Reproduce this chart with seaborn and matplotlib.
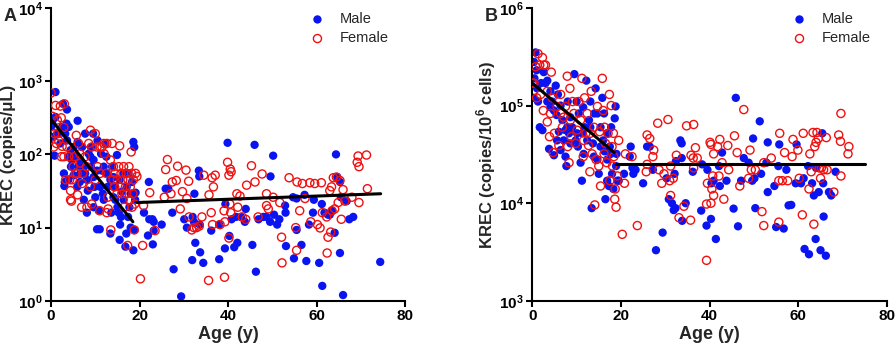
import numpy as np
import matplotlib
matplotlib.use("Agg")
import matplotlib.pyplot as plt
import matplotlib.ticker as mticker
import seaborn as sns

# ---- panel A: KREC copies/uL ----
a_male_age = [1.0, 0.0, 0.8, 0.6, 1.4, 2.7, 3.6, 3.5, 4.0, 2.9, 3.0, 3.1, 3.9, 4.4, 4.7, 5.1, 6.0, 6.0, 6.5, 6.6,
              7.4, 7.7, 7.7, 8.1, 8.3, 8.9, 9.0, 9.5, 9.6, 9.8, 10.0, 9.6, 10.4, 11.0, 10.8, 11.3, 11.7, 11.9, 12.5, 12.8,
              13.4, 13.6, 13.8, 14.1, 14.5, 14.9, 15.0, 15.3, 15.5, 15.6, 16.0, 16.4, 16.8, 17.0, 17.1, 17.4, 17.7, 18.0, 18.3, 18.6,
              18.6, 18.8, 18.9, 19.0, 19.1, 18.0, 17.5, 16.4, 15.8, 14.5, 13.4, 12.6, 11.9, 11.1, 10.4, 9.6, 8.5, 7.4, 7.0, 6.2,
              5.5, 5.1, 4.5, 4.0, 3.6, 2.1, 1.7, 2.5, 3.2, 1.0, 0.4, 5.9, 6.6, 8.1, 9.0, 10.5, 12.3, 11.5, 14.1, 15.5,
              21.0, 22.1, 21.9, 22.2, 22.9, 23.0, 23.2, 23.2, 25.0, 25.9, 26.5, 27.4, 27.7, 29.4, 30.1, 30.7, 31.9, 32.0, 32.3, 32.4,
              32.6, 33.4, 33.5, 33.7, 34.4, 33.6, 36.2, 38.0, 38.0, 39.3, 39.4, 39.9, 40.3, 40.8, 41.4, 42.1, 41.8, 42.9, 44.0, 43.8,
              45.5, 46.0, 46.3, 46.9, 48.0, 48.7, 49.6, 49.5, 50.2, 50.4, 51.1, 51.6, 52.9, 53.0, 53.1, 54.7, 54.9, 55.5, 55.5, 56.6,
              57.3, 57.7, 58.3, 59.2, 59.4, 60.6, 61.2, 61.3, 61.8, 62.6, 63.0, 63.5, 64.1, 64.4, 64.7, 65.3, 65.3, 65.5, 66.0, 66.8,
              67.4, 68.3, 74.4]
a_male_val = [710, 237, 96, 174, 192, 490, 410, 263, 237, 55, 37, 42, 45, 114, 84, 52, 288, 148, 42, 84,
              24, 192, 55, 16, 32, 93, 68, 192, 49, 36, 26, 19, 9.5, 9.5, 17, 102, 29, 68, 93, 36,
              8.3, 16, 68, 26, 36, 98, 19, 16, 6.8, 11, 31, 24, 5.5, 8.3, 36, 14, 19, 29, 42, 4.9,
              148, 126, 9.3, 24, 30, 10, 55, 55, 14, 24, 45, 55, 24, 36, 60, 84, 102, 68, 126, 68,
              93, 126, 68, 93, 155, 141, 192, 237, 192, 324, 295, 36, 55, 45, 126, 155, 141, 60, 49, 45,
              16, 42, 7.8, 13, 13, 5.9, 9.1, 12, 11, 34, 34, 16, 2.7, 1.15, 13, 10, 3.6, 14, 12, 29,
              6.2, 60, 50, 4.6, 3.3, 11, 9.1, 3.7, 11, 5.2, 21, 144, 7.7, 13, 5.4, 6.2, 14, 14, 18, 12,
              5.8, 135, 2.5, 13, 14, 14, 50, 12, 96, 15, 11, 13, 20, 16, 5.6, 26, 3.8, 9.3, 25, 5.8,
              28, 3.5, 11, 16, 24, 3.3, 21, 1.6, 16, 15, 15, 17, 8.5, 100, 49, 4.5, 42, 26, 1.2, 23,
              13, 14, 3.4]

a_female_age = [0.0, 0.3, 1.0, 1.4, 2.1, 2.3, 3.0, 2.9, 0.8, 0.6, 1.2, 1.7, 2.5, 2.9, 3.6, 4.0, 4.2, 4.4, 4.4, 4.6,
                5.0, 5.3, 5.7, 5.9, 6.0, 6.2, 6.6, 6.9, 7.2, 7.7, 8.1, 8.5, 8.9, 9.2, 9.2, 10.0, 10.4, 10.5, 11.0, 11.1,
                11.5, 11.9, 12.0, 12.5, 12.6, 12.8, 12.9, 13.4, 13.5, 13.8, 14.0, 14.1, 14.3, 14.5, 14.9, 15.0, 15.3, 15.5, 15.6, 15.8,
                16.0, 16.2, 16.4, 16.5, 16.8, 17.0, 17.1, 17.3, 17.4, 17.6, 17.8, 17.9, 18.1, 18.2, 18.3, 18.5, 18.6, 18.8, 18.9, 19.1,
                19.4, 11.1, 10.0, 8.9, 8.0, 7.0, 6.5, 5.5, 4.8, 3.3, 2.3, 1.5, 12.6,
                20.2, 20.7, 20.9, 22.3, 23.5, 25.6, 25.9, 26.3, 27.1, 27.4, 28.3, 28.6, 29.2, 29.7, 30.5, 30.7, 31.1, 31.2, 31.8, 32.3,
                32.9, 33.5, 34.1, 34.5, 35.6, 35.7, 36.2, 36.4, 36.7, 37.1, 36.5, 38.2, 39.2, 39.1, 39.3, 39.9, 40.2, 40.5, 40.7, 40.4,
                40.6, 40.2, 42.0, 42.2, 42.7, 43.2, 44.0, 44.2, 45.3, 46.1, 46.8, 47.7, 48.7, 48.7, 49.1, 50.2, 51.7, 52.1, 52.2, 53.8,
                55.3, 55.5, 55.6, 56.2, 56.8, 57.4, 58.5, 58.7, 59.6, 60.2, 60.8, 61.1, 61.3, 62.3, 62.4, 62.6, 63.0, 63.2, 63.4, 63.5,
                63.8, 64.1, 64.5, 64.9, 65.3, 65.6, 66.0, 66.4, 68.0, 69.4, 69.2, 69.6, 69.6, 71.3, 71.5]
a_female_val = [690, 331, 466, 295, 457, 316, 490, 234, 192, 126, 141, 155, 129, 93, 126, 93, 45, 32, 24, 23,
                68, 93, 182, 55, 28, 141, 76, 19, 55, 93, 19, 141, 214, 126, 21, 192, 126, 68, 17, 126,
                126, 141, 102, 55, 141, 26, 18, 84, 9.3, 141, 45, 68, 36, 55, 29, 45, 68, 131, 36, 55,
                29, 45, 68, 19, 36, 55, 29, 5.7, 45, 68, 24, 36, 108, 55, 19, 29, 45, 9.3, 21, 55,
                50, 55, 45, 36, 68, 40, 102, 55, 45, 45, 93, 192, 16,
                2.0, 5.7, 20, 30, 9.1, 26, 62, 85, 29, 42, 44, 69, 18, 31, 61, 25, 43, 14, 9.3, 10,
                10, 10.5, 14, 52, 1.9, 28, 16, 48, 36, 52, 11, 11, 2.1, 17, 12, 78, 52, 63, 58, 21,
                16, 7.2, 29, 19, 27, 14, 13, 38, 70, 42, 14, 54, 29, 20, 18, 26, 22, 7.4, 3.3, 48,
                10, 4.9, 42, 17, 40, 25, 41, 12, 40, 11, 9.9, 41, 16, 14, 4.5, 7.4, 32, 8.7, 36, 17,
                48, 18, 49, 22, 44, 13, 33, 23, 26, 95, 78, 68, 22, 98, 34]

# regression segments, panel A
a_fit_young_age, a_fit_young_val = [0.0, 18.5], [300, 12]
a_fit_adult_age, a_fit_adult_val = [19.5, 74.5], [22, 29]

# ---- panel B: KREC copies/10^6 cells ----
b_male_age = [0.75, 0.4, 1.0, 0.5, 0.2, 1.3, 1.7, 2.3, 2.0, 2.6, 3.0, 3.4, 3.8, 4.1, 4.5, 4.9, 5.3, 5.5, 5.8, 6.0,
              6.4, 6.8, 7.1, 7.5, 7.7, 8.0, 8.3, 8.6, 9.0, 9.5, 9.8, 10.0, 10.3, 10.5, 10.9, 11.2, 11.5, 11.8, 12.2, 12.4,
              12.8, 13.1, 13.4, 13.7, 14.0, 14.3, 14.7, 15.0, 15.4, 15.8, 16.0, 16.3, 16.5, 16.9, 17.3, 17.5, 17.8, 18.0, 18.3, 18.6,
              18.8, 18.9, 19.2, 19.0, 4.1, 5.6, 7.5, 8.6, 11.3, 13.1, 14.7, 16.2, 16.9, 17.7, 1.1, 3.4, 4.9, 6.4, 7.9, 10.1,
              11.6, 13.9, 15.4, 16.9,
              19.5, 20.7, 22.2, 22.0, 22.6, 22.8, 23.3, 25.0, 25.9, 26.5, 27.2, 27.9, 29.4, 30.3, 30.8, 31.5, 31.9, 32.3, 32.1, 32.4,
              33.4, 33.7, 33.7, 33.8, 34.6, 36.2, 38.1, 38.3, 39.3, 39.5, 40.3, 40.4, 40.9, 41.4, 42.1, 42.3, 42.8, 43.8, 45.4, 45.9,
              46.4, 47.1, 47.7, 48.8, 49.6, 49.8, 50.1, 50.3, 51.3, 51.6, 52.8, 53.1, 53.1, 54.6, 55.0, 55.5, 55.7, 56.7, 57.3, 57.8,
              58.4, 59.4, 59.6, 60.6, 61.2, 61.4, 62.4, 62.2, 63.1, 63.5, 63.9, 64.0, 64.6, 65.0, 65.4, 65.6, 65.7, 66.2, 66.9, 67.4,
              68.4]
b_male_val = [3.5e5, 2.8e5, 2.3e5, 1.9e5, 1.2e5, 1.1e5, 6.0e4, 5.6e4, 1.7e5, 2.2e5, 1.7e5, 1.8e5, 3.6e4, 1.4e5, 1.1e5, 3.1e4, 1.6e5, 8.0e4, 1.3e5, 5.4e4,
              1.0e5, 7.1e4, 4.4e4, 3.0e4, 2.4e4, 1.1e5, 5.2e4, 7.6e4, 6.0e4, 2.1e5, 4.4e4, 1.1e5, 3.8e4, 8.3e4, 2.6e4, 1.7e4, 9.6e4, 6.0e4, 1.8e5, 4.4e4,
              7.1e4, 1.1e5, 8.9e3, 4.1e4, 8.3e4, 1.5e5, 2.8e4, 2.0e4, 6.0e4, 1.2e5, 4.4e4, 3.4e4, 1.1e4, 2.8e4, 1.5e4, 3.8e4, 6.0e4, 2.0e4, 1.4e4, 7.4e4,
              9.8e4, 2.4e4, 1.7e4, 3.2e4, 9.6e4, 4.4e4, 5.6e4, 4.1e4, 5.2e4, 6.0e4, 8.3e4, 8.3e4, 5.2e4, 3.2e4, 1.5e5, 1.1e5, 8.9e4, 3.5e4, 6.0e4, 5.2e4,
              3.2e4, 3.0e4, 3.8e4, 1.7e4,
              1.7e4, 2.0e4, 3.8e4, 3.0e4, 2.3e4, 2.0e4, 2.2e4, 1.6e4, 3.8e4, 3.8e4, 2.2e4, 3.3e3, 5.0e3, 1.8e4, 1.1e4, 1.0e4, 8.5e3, 8.9e3, 2.0e4, 2.7e4,
              4.4e4, 4.1e4, 2.9e4, 6.6e3, 1.0e4, 2.1e4, 8.4e3, 2.5e4, 5.9e3, 2.2e4, 6.9e3, 1.6e4, 1.7e4, 4.3e3, 2.4e4, 1.5e4, 3.3e4, 1.7e4, 8.8e3, 1.2e5,
              5.8e3, 1.7e4, 2.9e4, 2.6e4, 1.7e4, 4.6e4, 1.8e4, 8.9e3, 6.9e4, 2.0e4, 2.6e4, 4.2e4, 1.3e4, 1.5e4, 5.7e3, 2.4e4, 4.0e4, 5.5e3, 2.2e4, 9.5e3,
              9.6e3, 1.6e4, 4.0e4, 1.6e4, 1.8e4, 3.4e3, 3.0e3, 2.4e4, 1.6e4, 1.2e4, 4.3e3, 2.3e4, 1.3e4, 3.3e3, 5.2e4, 1.6e4, 7.3e3, 2.9e3, 1.3e4, 1.2e4,
              2.1e4]

b_female_age = [0.0, 0.4, 0.75, 1.3, 1.7, 2.3, 2.6, 3.0, 1.0, 1.9, 2.5, 3.4, 3.9, 4.3, 4.5, 4.7, 5.0, 5.6, 6.0, 6.4,
                6.8, 7.1, 7.5, 7.9, 8.0, 8.3, 8.5, 8.8, 9.1, 9.4, 9.8, 10.1, 10.5, 10.9, 11.2, 11.5, 11.8, 12.1, 12.4, 12.7,
                13.0, 13.3, 13.5, 13.9, 14.1, 14.4, 14.7, 15.0, 15.2, 15.4, 15.8, 16.0, 16.3, 16.5, 16.8, 17.1, 17.4, 17.5, 17.8, 18.0,
                18.1, 18.3, 18.4, 18.6, 18.7, 18.9, 19.2, 19.5, 8.6, 6.4, 4.1, 3.4, 11.6, 13.1, 16.2,
                20.3, 20.8, 21.0, 22.5, 23.7, 25.7, 25.9, 25.9, 26.5, 27.4, 27.2, 28.3, 28.6, 29.2, 29.7, 30.6, 31.0, 31.2, 31.2, 31.8,
                32.5, 33.1, 34.2, 34.8, 35.7, 35.8, 36.3, 36.4, 36.8, 37.2, 36.4, 39.3, 39.3, 39.5, 40.1, 40.3, 40.3, 40.5, 40.7, 40.9,
                40.9, 41.8, 42.1, 42.3, 42.8, 43.2, 44.1, 44.3, 45.6, 46.2, 46.8, 47.7, 48.8, 49.1, 49.4, 50.3, 51.8, 52.2, 52.2, 53.9,
                55.6, 55.6, 55.8, 56.4, 56.9, 57.6, 58.6, 58.8, 59.9, 60.2, 60.9, 61.1, 62.4, 62.6, 62.9, 63.3, 63.5, 63.7, 64.0, 64.2,
                64.5, 64.7, 65.0, 65.2, 65.7, 66.3, 66.5, 68.0, 69.1, 69.5, 69.6, 69.6, 71.4, 71.2]
b_female_val = [1.7e5, 1.7e5, 2.5e5, 3.4e5, 2.6e5, 3.1e5, 2.6e5, 2.6e5, 1.2e5, 1.3e5, 8.9e4, 6.8e4, 4.8e4, 2.2e5, 1.2e5, 3.3e4, 5.2e4, 9.8e4, 3.9e4, 1.3e5,
                6.0e4, 7.6e4, 9.8e4, 2.0e5, 3.8e4, 2.6e4, 1.5e5, 4.8e4, 1.1e5, 8.3e4, 4.1e4, 5.6e4, 1.1e5, 7.1e4, 1.9e5, 3.0e4, 1.2e5, 5.2e4, 8.3e4, 3.9e4,
                2.1e4, 1.4e5, 3.2e4, 6.0e4, 9.6e3, 2.8e4, 9.8e4, 2.4e4, 5.4e4, 1.5e4, 1.9e5, 8.9e4, 6.0e4, 4.1e4, 2.6e4, 5.2e4, 1.3e5, 1.7e4, 1.0e5, 3.8e4,
                2.4e4, 5.2e4, 3.0e4, 1.1e4, 1.4e4, 9.1e3, 1.9e4, 4.4e4, 7.1e4, 8.3e4, 8.3e4, 1.4e5, 4.4e4, 5.2e4, 3.2e4,
                4.8e3, 1.6e4, 3.2e4, 3.0e4, 5.9e3, 2.1e4, 2.5e4, 5.0e4, 4.6e4, 3.5e4, 3.0e4, 6.6e4, 2.2e4, 1.6e4, 2.0e4, 7.2e4, 1.7e4, 2.4e4, 1.2e4, 1.8e4,
                3.1e4, 7.1e3, 9.3e3, 6.2e4, 6.7e3, 3.1e4, 2.9e4, 6.4e4, 3.7e4, 2.9e4, 2.3e4, 9.8e3, 2.6e3, 1.6e4, 4.2e4, 4.0e4, 1.0e4, 1.4e4, 1.9e4, 1.2e4,
                3.2e4, 3.8e4, 1.9e4, 4.5e4, 2.6e4, 1.1e4, 3.9e4, 2.2e4, 4.9e4, 3.3e4, 1.5e4, 9.1e4, 1.8e4, 3.5e4, 2.2e4, 2.2e4, 8.2e3, 5.9e3, 2.6e4, 2.9e4,
                1.7e4, 6.4e3, 5.2e4, 1.7e4, 3.3e4, 1.7e4, 3.0e4, 4.5e4, 3.5e4, 1.8e4, 7.6e3, 5.2e4, 1.4e4, 3.2e4, 2.1e4, 5.3e4, 6.1e3, 3.8e4, 4.2e4, 5.3e4,
                4.6e4, 2.3e4, 1.8e4, 2.3e4, 2.2e4, 4.7e4, 2.2e4, 1.3e4, 5.0e4, 4.3e4, 8.3e4, 1.9e4, 3.8e4, 3.2e4]

b_fit_young_age, b_fit_young_val = [0.0, 18.5], [1.7e5, 3.3e4]
b_fit_adult_age, b_fit_adult_val = [19.0, 75.0], [2.5e4, 2.5e4]

x_ticks = [0, 20, 40, 60, 80]

sns.set_theme(style="ticks")
plt.rcParams['font.family'] = ['Liberation Sans', 'DejaVu Sans']
plt.rcParams['font.weight'] = 'bold'
plt.rcParams['mathtext.fontset'] = 'custom'
plt.rcParams['mathtext.rm'] = 'Liberation Sans'
plt.rcParams['mathtext.bf'] = 'Liberation Sans:bold'

fig = plt.figure(figsize=(8.96, 3.45), dpi=100)
ax1 = fig.add_axes([0.057, 0.128, 0.395, 0.849])
ax2 = fig.add_axes([0.594, 0.128, 0.396, 0.849])


def draw_panel(ax, m_age, m_val, f_age, f_val, fits, ylim, ylabel, letter):
    sns.scatterplot(x=m_age, y=m_val, ax=ax, color='#0a14f0', s=36, edgecolor='none',
                    label='Male', zorder=2)
    sns.scatterplot(x=f_age, y=f_val, ax=ax, facecolors='none', edgecolor='#f01010',
                    linewidth=1.0, s=34, label='Female', zorder=3)
    for xs, ys in fits:
        sns.lineplot(x=xs, y=ys, ax=ax, color='black', linewidth=2.2, zorder=4,
                     legend=False)
    ax.set_yscale('log')
    ax.set_ylim(*ylim)
    ax.set_xlim(0, 80)
    ax.set_xticks(x_ticks)
    ax.yaxis.set_major_locator(mticker.LogLocator(base=10, numticks=10))
    ax.yaxis.set_minor_locator(mticker.NullLocator())
    ax.yaxis.set_major_formatter(mticker.FuncFormatter(
        lambda v, p: r'$\mathbf{10^{%d}}$' % round(np.log10(v))))
    sns.despine(ax=ax)
    for sp in ['left', 'bottom']:
        ax.spines[sp].set_linewidth(1.5)
        ax.spines[sp].set_color('black')
    ax.tick_params(direction='out', length=4, width=1.5, labelsize=11, colors='black', pad=2)
    for t in ax.get_xticklabels():
        t.set_fontweight('bold')
    ax.set_xlabel('Age (y)', fontsize=13, fontweight='bold', labelpad=2)
    ax.set_ylabel(ylabel, fontsize=12, fontweight='bold', labelpad=1)
    leg = ax.legend(loc='upper right', bbox_to_anchor=(0.99, 1.03), frameon=False,
                    fontsize=10.5, handletextpad=0.5, labelspacing=0.35, markerscale=1.0)
    for t in leg.get_texts():
        t.set_fontweight('normal')
    ax.text(-0.135, 1.0, letter, transform=ax.transAxes, fontsize=13,
            fontweight='bold', va='top', ha='left')


draw_panel(ax1, a_male_age, a_male_val, a_female_age, a_female_val,
           [(a_fit_young_age, a_fit_young_val), (a_fit_adult_age, a_fit_adult_val)],
           (1, 1e4), 'KREC (copies/\u03bcL)', 'A')
draw_panel(ax2, b_male_age, b_male_val, b_female_age, b_female_val,
           [(b_fit_young_age, b_fit_young_val), (b_fit_adult_age, b_fit_adult_val)],
           (1e3, 1e6), r'KREC (copies/10$^{\mathbf{6}}$ cells)', 'B')

fig.savefig('out.png', dpi=100)
